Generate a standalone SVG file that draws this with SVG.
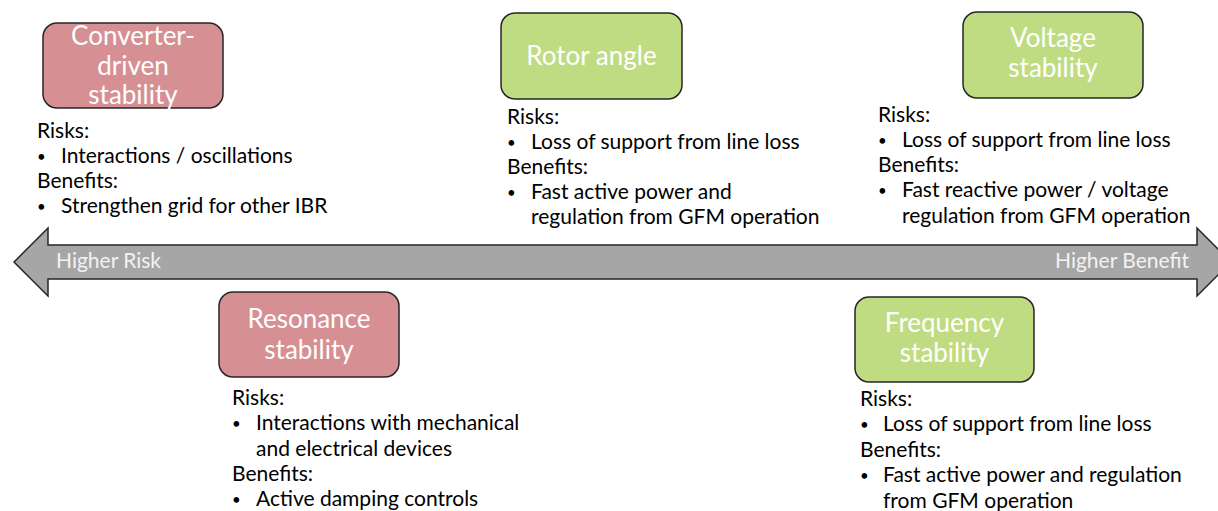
<svg xmlns="http://www.w3.org/2000/svg" width="1218" height="511" viewBox="0 0 1218 511">
<style>
.red{fill:#D69094;stroke:#262626;stroke-width:1.5}
.green{fill:#C0DC82;stroke:#262626;stroke-width:1.5}
.title{font-family:Lato,"Liberation Sans",sans-serif;font-size:26px;fill:#FFFFFF;text-anchor:middle}
.body{font-family:Lato,"Liberation Sans",sans-serif;font-size:21px;fill:#000000}
.bul{font-family:Lato,"Liberation Sans",sans-serif;font-size:15px;fill:#000000}
.axis{font-family:Lato,"Liberation Sans",sans-serif;font-size:21px;fill:#F2F2F2}
</style>
<rect width="1218" height="511" fill="#FFFFFF"/>
<g id="connectors">
<polygon points="14,262 48,228 48,245 1197,245 1197,228 1231,262 1197,296 1197,279 48,279 48,296" fill="#A6A6A6" stroke="#262626" stroke-width="1.5"/>
<text class="axis" x="56" y="268">Higher Risk</text>
<text class="axis" x="1189" y="268" text-anchor="end">Higher Benefit</text>
</g>
<g id="converter">
<rect class="red" x="43" y="23" width="180" height="85" rx="14"/>
<text class="title" x="133" y="45">Converter-</text>
<text class="title" x="133" y="75">driven</text>
<text class="title" x="133" y="104">stability</text>
<text class="body" x="37" y="138">Risks:</text>
<text class="bul" x="37" y="162">•</text>
<text class="body" x="61" y="163">Interactions / oscillations</text>
<text class="body" x="37" y="188">Benefits:</text>
<text class="bul" x="37" y="212">•</text>
<text class="body" x="61" y="213">Strengthen grid for other IBR</text>
</g>
<g id="rotor">
<rect class="green" x="501" y="13" width="181" height="86" rx="14"/>
<text class="title" x="591.5" y="65">Rotor angle</text>
<text class="body" x="507" y="124">Risks:</text>
<text class="bul" x="507" y="148">•</text>
<text class="body" x="531" y="149">Loss of support from line loss</text>
<text class="body" x="507" y="174">Benefits:</text>
<text class="bul" x="507" y="198">•</text>
<text class="body" x="531" y="199">Fast active power and</text>
<text class="body" x="531" y="224">regulation from GFM operation</text>
</g>
<g id="voltage">
<rect class="green" x="963" y="12" width="180" height="86" rx="14"/>
<text class="title" x="1053" y="47">Voltage</text>
<text class="title" x="1053" y="77">stability</text>
<text class="body" x="878" y="122">Risks:</text>
<text class="bul" x="878" y="146">•</text>
<text class="body" x="902" y="147">Loss of support from line loss</text>
<text class="body" x="878" y="172">Benefits:</text>
<text class="bul" x="878" y="196">•</text>
<text class="body" x="902" y="197">Fast reactive power / voltage</text>
<text class="body" x="902" y="223">regulation from GFM operation</text>
</g>
<g id="resonance">
<rect class="red" x="219" y="292" width="180" height="85" rx="14"/>
<text class="title" x="309" y="328">Resonance</text>
<text class="title" x="309" y="359">stability</text>
<text class="body" x="232" y="405">Risks:</text>
<text class="bul" x="232" y="429">•</text>
<text class="body" x="256" y="430">Interactions with mechanical</text>
<text class="body" x="256" y="456">and electrical devices</text>
<text class="body" x="232" y="481">Benefits:</text>
<text class="bul" x="232" y="505">•</text>
<text class="body" x="256" y="506">Active damping controls</text>
</g>
<g id="frequency">
<rect class="green" x="855" y="297" width="179" height="85" rx="14"/>
<text class="title" x="944.5" y="332">Frequency</text>
<text class="title" x="944.5" y="362">stability</text>
<text class="body" x="860" y="406">Risks:</text>
<text class="bul" x="860" y="430">•</text>
<text class="body" x="883" y="431">Loss of support from line loss</text>
<text class="body" x="860" y="457">Benefits:</text>
<text class="bul" x="860" y="481">•</text>
<text class="body" x="883" y="482">Fast active power and regulation</text>
<text class="body" x="883" y="508">from GFM operation</text>
</g>
</svg>
